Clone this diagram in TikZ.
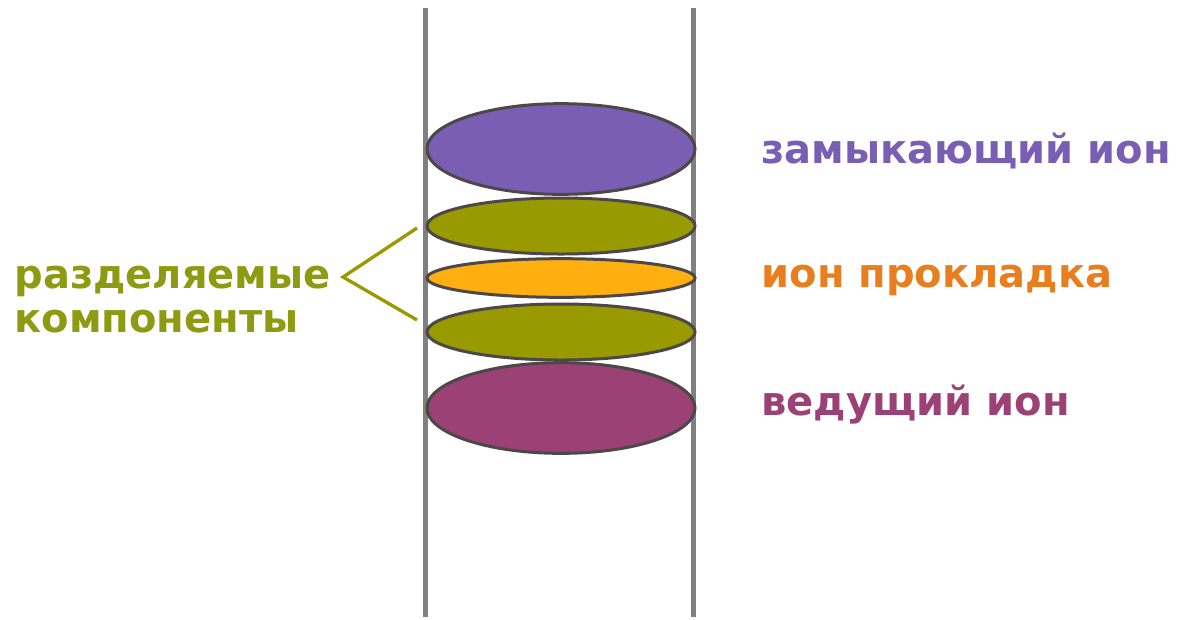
\documentclass[tikz,border=0pt]{standalone}
\usepackage{fontspec}
\setmainfont{DejaVu Sans}
\usetikzlibrary{shapes.geometric}
\definecolor{tubegray}{RGB}{128,128,128}
\definecolor{rimgray}{RGB}{77,72,72}
\definecolor{closeviolet}{RGB}{122,94,180}
\definecolor{sepolive}{RGB}{153,153,0}
\definecolor{sepolivetxt}{RGB}{142,154,18}
\definecolor{spacerorange}{RGB}{255,176,16}
\definecolor{spacertxt}{RGB}{232,126,30}
\definecolor{leadplum}{RGB}{155,65,117}
\tikzset{every picture/.style={line width=0.75pt}}
\tikzset{zone/.style={ellipse, draw=rimgray, line width=2.25pt, inner sep=0pt, minimum width=201pt}}
\tikzset{lbl/.style={anchor=base west, inner sep=0.75pt, font=\fontsize{30}{36}\selectfont\bfseries}}

\begin{document}
\begin{tikzpicture}[x=0.75pt,y=0.75pt,yscale=-1,xscale=1]
    \path[use as bounding box] (0,0) rectangle (1184,619); %set diagram size 1184x619
    %Straight Lines [tube left]
    \draw [color=tubegray, line width=3.75pt]   (425,8) -- (425,617) ;
    %Straight Lines [tube right]
    \draw [color=tubegray, line width=3.75pt]   (693,8) -- (693,617) ;
    %Shape: Ellipse [closing ion]
    \node [zone, fill=closeviolet, minimum height=68pt] (closing) at (561,149) {};
    %Shape: Ellipse [separated component 1]
    \node [zone, fill=sepolive, minimum height=42pt] (compA) at (561,226) {};
    %Shape: Ellipse [spacer ion]
    \node [zone, fill=spacerorange, minimum height=29pt] (spacer) at (561,278) {};
    %Shape: Ellipse [separated component 2]
    \node [zone, fill=sepolive, minimum height=42pt] (compB) at (561,332) {};
    %Shape: Ellipse [leading ion]
    \node [zone, fill=leadplum, minimum height=68pt] (leading) at (561,408) {};
    % Text Node
    \node [lbl, color=closeviolet] (closinglbl) at (760,163) {замыкающий ион};
    % Text Node
    \node [lbl, color=spacertxt] (spacerlbl) at (760,287) {ион прокладка};
    % Text Node
    \node [lbl, color=leadplum] (leadinglbl) at (760,415) {ведущий ион};
    % Text Node
    \node [lbl, color=sepolivetxt] (seplblA) at (13,288) {разделяемые};
    % Text Node
    \node [lbl, color=sepolivetxt] (seplblB) at (13,332) {компоненты};
    %Straight Lines [bracket]
    \coordinate (vertex) at (343,277);
    \coordinate (tipA) at (417,228);
    \coordinate (tipB) at (417,320);
    \draw [color=sepolive, line width=2.5pt]   (tipA) -- (vertex) -- (tipB) ;
\end{tikzpicture}
\end{document}
